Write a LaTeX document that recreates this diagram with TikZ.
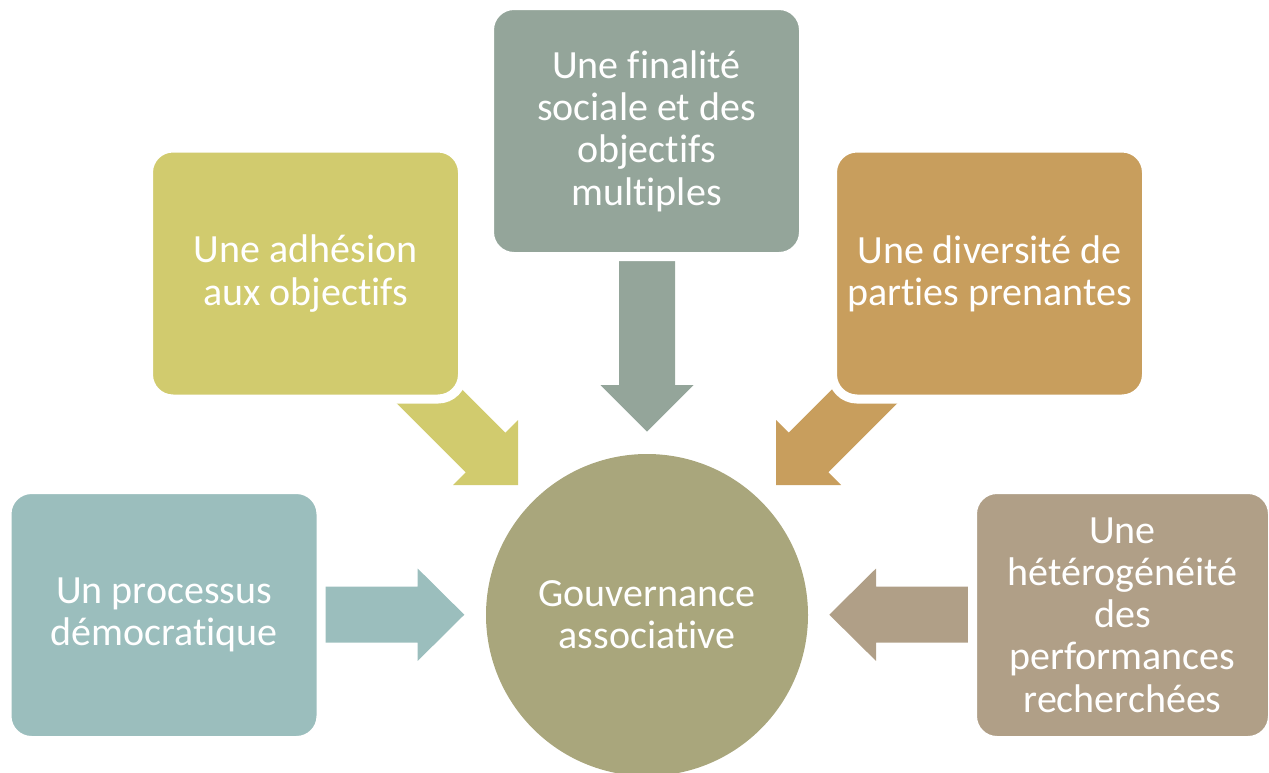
\documentclass[tikz,border=0pt]{standalone}
\usepackage{fontspec}
\setmainfont{Carlito}[Ligatures={NoCommon}]
\definecolor{cTop}{HTML}{94A59A}
\definecolor{cLU}{HTML}{D1CB6E}
\definecolor{cRU}{HTML}{C89E5D}
\definecolor{cLL}{HTML}{9BBEBD}
\definecolor{cRL}{HTML}{B09F87}
\definecolor{cCirc}{HTML}{A9A67C}
\tikzset{
  box/.style={rectangle, rounded corners=24.5pt, draw=white, line width=9pt,
     minimum width=314pt, minimum height=251pt, inner sep=0pt,
     text=white, align=center, font=\fontsize{40}{42.3}\selectfont},
  hub/.style={circle, minimum size=322pt, inner sep=0pt, text=white,
     align=center, font=\fontsize{40}{42.3}\selectfont},
}
\begin{document}
\begin{tikzpicture}[x=1pt,y=-1pt]
\useasboundingbox (0,0) rectangle (1269,772);
\clip (0,0) rectangle (1269,772);
% central circle
\node[hub, fill=cCirc] (hub) at (647,615) {Gouvernance\\associative};
% arrows
\fill[cTop] (619,240) -- (675,240) -- (675,385) -- (693.5,385) -- (647,431.5)
   -- (600.5,385) -- (619,385) -- cycle;
\fill[cLU] (405.3,332.7) -- (505.3,432.7) -- (518,420) -- (518,485) -- (453,485)
   -- (465.7,472.3) -- (365.7,372.3) -- cycle;
\fill[cRU] (888.7,332.7) -- (788.7,432.7) -- (776,420) -- (776,485) -- (841,485)
   -- (828.3,472.3) -- (928.3,372.3) -- cycle;
\fill[cLL] (300,586.7) -- (417.7,586.7) -- (417.7,568.5) -- (464.3,614.7)
   -- (417.7,660.9) -- (417.7,642.7) -- (300,642.7) -- cycle;
\fill[cRL] (990,586.7) -- (876,586.7) -- (876,568.5) -- (829.3,614.7)
   -- (876,660.9) -- (876,642.7) -- (990,642.7) -- cycle;
% boxes
\node[box, fill=cTop] (top) at (646.5,131) {Une finalité\\sociale et des\\objectifs\\multiples};
\node[box, fill=cLU] (lu) at (305.5,273.5) {Une adhésion\\aux objectifs};
\node[box, fill=cRU] (ru) at (989.5,273.5) {Une diversité de\\parties prenantes};
\node[box, fill=cLL] (ll) at (164,615) {Un processus\\démocratique};
\node[box, fill=cRL, minimum width=300pt] (rl) at (1122.5,615) {Une\\hétérogénéité\\des\\performances\\recherchées};
\end{tikzpicture}
\end{document}
